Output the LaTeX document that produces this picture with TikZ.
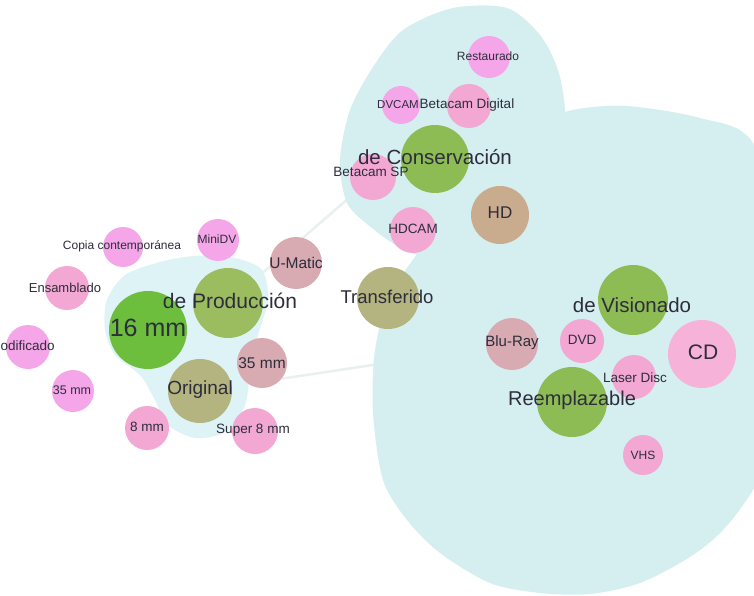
\documentclass[tikz,border=0pt]{standalone}
\usepackage{fontspec}
\setmainfont{Liberation Sans}
\newcommand{\fs}[1]{\fontsize{#1}{#1}\selectfont}
\definecolor{blob}{RGB}{213,239,240}
\definecolor{blobp}{RGB}{222,243,246}
\definecolor{lime}{RGB}{108,190,60}
\definecolor{leaf}{RGB}{141,187,84}
\definecolor{olivec}{RGB}{156,188,96}
\definecolor{khaki}{RGB}{180,180,128}
\definecolor{tanc}{RGB}{201,171,141}
\definecolor{rose}{RGB}{216,170,178}
\definecolor{pinkc}{RGB}{243,168,211}
\definecolor{pinkl}{RGB}{246,178,216}
\definecolor{magc}{RGB}{245,166,232}
\definecolor{ink}{RGB}{45,45,60}
\definecolor{faint}{RGB}{233,240,240}
\pgfdeclarelayer{links}
\pgfdeclarelayer{groups}
\pgfsetlayers{links,groups,main}

\begin{document}
\begin{tikzpicture}[x=1pt,y=-1pt]
			\tikzstyle{c}=[circle, inner sep=0pt]
			\tikzstyle{t}=[inner sep=0pt, text=ink]
			\tikzstyle{g1}=[fill=lime]
			\tikzstyle{g2}=[fill=olivec]
			\tikzstyle{g3}=[fill=leaf]
			\tikzstyle{k}=[fill=khaki]
			\tikzstyle{h}=[fill=tanc]
			\tikzstyle{r}=[fill=rose]
			\tikzstyle{p}=[fill=pinkc]
			\tikzstyle{m}=[fill=magc]
			\tikzstyle{edge}=[faint, line width=2.5pt]

			\begin{pgfonlayer}{links}
			\fill[white] (0,0) rectangle (754,596);
			\end{pgfonlayer}
			\useasboundingbox (0,0) rectangle (754,596);

			% groups
			\begin{pgfonlayer}{groups}
			\fill[blob] plot[smooth cycle] coordinates {(453,8) (507,8) (540,35) (558,70) (565,110) (565,160) (520,230) (440,258) (400,247) (372,228) (347,203) (340,160) (350,110) (373,67) (403,30)};
			\fill[blob] plot[smooth cycle] coordinates {(565,112) (625,106) (700,118) (753,143) (790,260) (790,420) (753,490) (723,530) (690,557) (640,583) (590,594) (540,593) (490,583) (440,553) (407,520) (383,480) (373,413) (375,350) (390,295) (420,250) (465,190) (515,140)};
			\fill[blobp] plot[smooth cycle] coordinates {(107,300) (125,275) (160,262) (195,256) (235,258) (262,270) (268,300) (258,335) (250,370) (245,405) (225,432) (195,438) (168,425) (155,400) (140,375) (115,355) (105,330)};
			\end{pgfonlayer}

			% bubbles
			\node[c,g1,minimum size=78pt] (mm16) at (148,330) {};
			\node[c,g2,minimum size=70pt] (prod) at (228,303) {};
			\node[c,k,minimum size=64pt] (orig) at (200,391) {};
			\node[c,r,minimum size=50pt] (mmb) at (262,363) {};
			\node[c,p,minimum size=46pt] (sup8) at (255,431) {};
			\node[c,p,minimum size=44pt] (mm8) at (147,428) {};
			\node[c,m,minimum size=42pt] (mma) at (73,391) {};
			\node[c,m,minimum size=44pt] (modif) at (28,347) {};
			\node[c,p,minimum size=44pt] (ensam) at (67,288) {};
			\node[c,m,minimum size=40pt] (copia) at (123,247) {};
			\node[c,m,minimum size=42pt] (minidv) at (218,240) {};
			\node[c,r,minimum size=52pt] (umatic) at (296,263) {};
			\node[c,k,minimum size=62pt] (transf) at (388,298) {};
			\node[c,p,minimum size=46pt] (betasp) at (373,177) {};
			\node[c,g3,minimum size=68pt] (cons) at (435,159) {};
			\node[c,m,minimum size=38pt] (dvcam) at (401,105) {};
			\node[c,p,minimum size=44pt] (betadig) at (469,106) {};
			\node[c,m,minimum size=42pt] (resta) at (489,57) {};
			\node[c,h,minimum size=58pt] (hd) at (500,215) {};
			\node[c,p,minimum size=46pt] (hdcam) at (413,230) {};
			\node[c,g3,minimum size=70pt] (vision) at (633,300) {};
			\node[c,fill=pinkl,minimum size=68pt] (cd) at (702,354) {};
			\node[c,p,minimum size=44pt] (dvd) at (582,341) {};
			\node[c,r,minimum size=52pt] (bluray) at (512,344) {};
			\node[c,p,minimum size=44pt] (laser) at (634,377) {};
			\node[c,g3,minimum size=70pt] (reempl) at (572,402) {};
			\node[c,p,minimum size=40pt] (vhs) at (643,455) {};

			% faint links, under the groups
			\begin{pgfonlayer}{links}
			\foreach \from/\to in {prod/betasp,orig/bluray}
			\draw[edge] (\from) -- (\to);
			\end{pgfonlayer}

			% labels
			\node[t,font=\fs{25}] (lmm16) at (148,328) {16 mm};
			\node[t,font=\fs{21}] (lprod) at (230,301) {de Producción};
			\node[t,font=\fs{19}] (lorig) at (200,390) {Original};
			\node[t,font=\fs{15.5}] (lmmb) at (262,363) {35 mm};
			\node[t,font=\fs{13.5}] (lsup8) at (253,430) {Super 8 mm};
			\node[t,font=\fs{13.5}] (lmm8) at (147,427) {8 mm};
			\node[t,font=\fs{12.5}] (lmma) at (72,390) {35 mm};
			\node[t,font=\fs{13.5}] (lmodif) at (22,346) {Modificado};
			\node[t,font=\fs{13}] (lensam) at (65,288) {Ensamblado};
			\node[t,font=\fs{12}] (lcopia) at (122,246) {Copia contemporánea};
			\node[t,font=\fs{12}] (lminidv) at (217,239) {MiniDV};
			\node[t,font=\fs{15.5}] (lumatic) at (296,263) {U-Matic};
			\node[t,font=\fs{18.5}] (ltransf) at (387,297) {Transferido};
			\node[t,font=\fs{20.5}] (lcons) at (435,157) {de Conservación};
			\node[t,font=\fs{13.5}] (lbetasp) at (371,172) {Betacam SP};
			\node[t,font=\fs{11.5}] (ldvcam) at (398,105) {DVCAM};
			\node[t,font=\fs{13.5}] (lbetadig) at (467,105) {Betacam Digital};
			\node[t,font=\fs{12}] (lresta) at (488,56) {Restaurado};
			\node[t,font=\fs{17}] (lhd) at (500,213) {HD};
			\node[t,font=\fs{13.5}] (lhdcam) at (413,229) {HDCAM};
			\node[t,font=\fs{20.5}] (lvision) at (632,305) {de Visionado};
			\node[t,font=\fs{21}] (lcd) at (703,352) {CD};
			\node[t,font=\fs{13.5}] (ldvd) at (582,340) {DVD};
			\node[t,font=\fs{15}] (lbluray) at (512,343) {Blu-Ray};
			\node[t,font=\fs{13.5}] (llaser) at (635,378) {Laser Disc};
			\node[t,font=\fs{20}] (lreempl) at (572,400) {Reemplazable};
			\node[t,font=\fs{12}] (lvhs) at (643,455) {VHS};
		\end{tikzpicture}
\end{document}
